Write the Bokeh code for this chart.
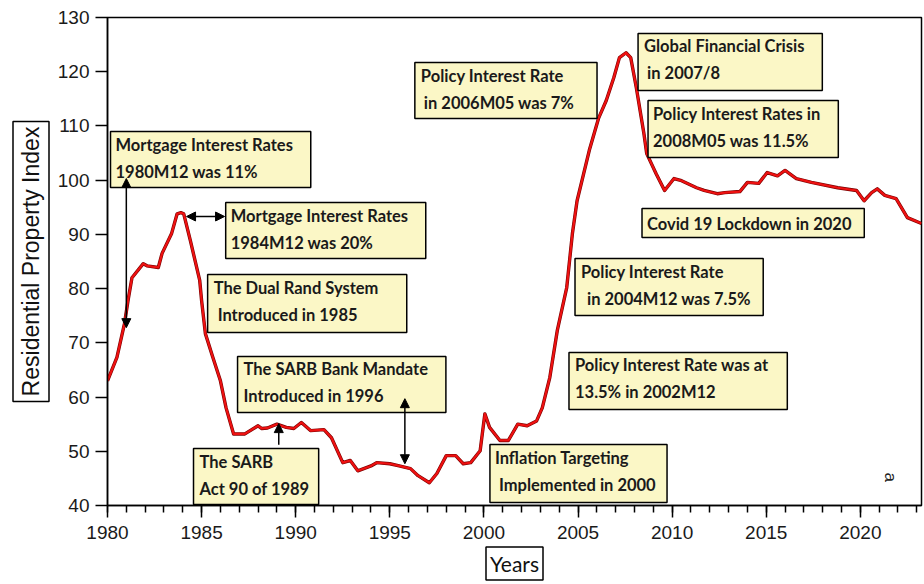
from bokeh.plotting import figure
from bokeh.models import (ColumnDataSource, Range1d, FixedTicker, Label, Arrow,
                          NormalHead, Title)
from bokeh.core.properties import value
from bokeh.embed import file_html
from bokeh.resources import INLINE
import math

# ---------------- data ----------------
years = [1980.0, 1980.5, 1980.9, 1981.1, 1981.3, 1981.9, 1982.1, 1982.7, 1982.9,
         1983.4, 1983.7, 1983.9, 1984.05, 1984.4, 1984.9, 1985.0, 1985.2, 1985.6,
         1986.0, 1986.3, 1986.7, 1987.3, 1988.0, 1988.2, 1988.5, 1989.0, 1989.5,
         1989.9, 1990.3, 1990.8, 1991.5, 1991.9, 1992.5, 1992.9, 1993.3, 1994.0,
         1994.3, 1995.0, 1995.5, 1996.1, 1996.5, 1997.1, 1997.5, 1998.0, 1998.5,
         1998.9, 1999.3, 1999.8, 2000.05, 2000.3, 2000.85, 2001.3, 2001.8, 2002.3,
         2002.8, 2003.1, 2003.5, 2003.9, 2004.4, 2004.7, 2004.95, 2005.3, 2005.6,
         2006.1, 2006.5, 2006.9, 2007.2, 2007.55, 2007.8, 2008.1, 2008.5, 2008.65,
         2009.15, 2009.6, 2010.1, 2010.5, 2011.3, 2011.7, 2012.4, 2012.8, 2013.6,
         2014.0, 2014.6, 2015.05, 2015.6, 2016.0, 2016.6, 2017.4, 2018.8, 2019.8,
         2020.2, 2020.6, 2020.9, 2021.3, 2021.9, 2022.5, 2023.25]
rpi = [63.0, 67.3, 73.5, 78.0, 82.0, 84.6, 84.2, 83.9, 86.5,
       90.1, 93.8, 94.0, 93.8, 88.9, 81.5, 77.8, 71.7, 67.3,
       63.0, 58.0, 53.2, 53.2, 54.7, 54.2, 54.3, 55.0, 54.4,
       54.2, 55.3, 53.8, 54.0, 52.5, 47.9, 48.3, 46.4, 47.3,
       47.9, 47.7, 47.3, 46.8, 45.5, 44.2, 45.9, 49.2, 49.2,
       47.7, 47.9, 50.1, 56.9, 54.4, 52.0, 52.0, 55.0, 54.7,
       55.6, 58.0, 63.6, 72.3, 80.2, 90.1, 96.2, 101.2, 105.5,
       111.5, 114.7, 118.9, 122.6, 123.5, 122.6, 117.0, 108.6, 104.9,
       101.2, 98.1, 100.3, 99.9, 98.6, 98.1, 97.5, 97.7, 97.9,
       99.6, 99.4, 101.4, 100.8, 101.8, 100.3, 99.6, 98.6, 98.1,
       96.2, 97.7, 98.4, 97.2, 96.6, 93.1, 92.0]

x_major_ticks = [1980, 1985, 1990, 1995, 2000, 2005, 2010, 2015, 2020]
y_ticks = [40, 50, 60, 70, 80, 90, 100, 110, 120, 130]

# annotation texts
note_line1 = ["Mortgage Interest Rates", "Mortgage Interest Rates", "The Dual Rand System",
              "The SARB Bank Mandate", "The SARB", "Inflation Targeting",
              "Policy Interest Rate was at", "Policy Interest Rate", "Policy Interest Rate",
              "Global Financial Crisis", "Policy Interest Rates in", "Covid 19 Lockdown in 2020"]
note_line2 = ["1980M12 was 11%", "1984M12 was 20%", "Introduced in 1985",
              "Introduced in 1996", "Act 90 of 1989", "Implemented in 2000",
              "13.5% in 2002M12", "in 2004M12 was 7.5%", "in 2006M05 was 7%",
              "in 2007/8", "2008M05 was 11.5%", ""]

# ---------------- layout of annotation boxes (data coords) ----------------
box_left = [1980.16, 1986.28, 1985.32, 1986.91, 1984.57, 2000.32, 2004.52, 2004.84,
            1996.33, 2008.19, 2008.72, 2008.40]
box_right = [1990.80, 1996.91, 1995.90, 1997.98, 1991.22, 2009.73, 2016.12, 2014.84,
             2006.01, 2017.98, 2018.83, 2020.21]
box_top = [108.97, 95.88, 82.60, 67.48, 50.51, 51.25, 68.22, 85.55, 121.70, 127.05,
           114.69, 94.77]
box_bottom = [98.65, 85.55, 71.91, 57.15, 40.18, 40.55, 57.70, 75.04, 111.37, 116.54,
              104.18, 89.43]
pad1 = [5, 5, 6, 6, 6, 5, 6, 6, 6, 6, 5, 5]
pad2 = [5, 5, 10, 6, 6, 9, 6, 12, 9, 9, 5, 5]
off1 = [13, 13, 13, 13, 13, 13, 13, 13, 13, 13, 13, 15]
off2 = [40] * 12

W, H = 924, 584
p = figure(width=W, height=H, output_backend="svg", toolbar_location=None,
           x_range=Range1d(1980, 2023.25), y_range=Range1d(40, 130),
           min_border_left=107, min_border_right=3, min_border_top=17, min_border_bottom=79)
p.background_fill_color = "white"
p.border_fill_color = "white"
p.outline_line_color = "black"
p.outline_line_width = 1.5
p.xgrid.visible = False
p.ygrid.visible = False

# axes
for ax in (p.xaxis[0], p.yaxis[0]):
    ax.axis_line_color = "black"
    ax.axis_line_width = 1.5
    ax.major_tick_line_color = "black"
    ax.major_tick_line_width = 1.5
    ax.major_tick_in = 0
    ax.major_tick_out = 12
    ax.major_label_text_font = "Liberation Sans"
    ax.major_label_text_font_size = "19px"
    ax.major_label_text_color = "#1a1a1a"
p.xaxis.ticker = FixedTicker(ticks=x_major_ticks, minor_ticks=list(range(1980, 2024)))
p.xaxis.minor_tick_line_color = "black"
p.xaxis.minor_tick_line_width = 1.5
p.xaxis.minor_tick_in = 0
p.xaxis.minor_tick_out = 7
p.xaxis.major_label_standoff = 8
p.yaxis.ticker = FixedTicker(ticks=y_ticks)
p.yaxis.minor_tick_line_color = None
p.yaxis.major_label_standoff = 6

# axis titles in boxes
p.add_layout(Title(text="Residential Property Index", align="center",
                   text_font="Liberation Sans", text_font_size="23px",
                   text_font_style="normal", text_color="#111111",
                   border_line_color="black", border_line_width=1.5,
                   background_fill_color="white", padding=5, standoff=11), "left")
p.add_layout(Title(text="Years", align="center", offset=-5,
                   text_font="Lato", text_font_size="21px",
                   text_font_style="normal", text_color="#111111",
                   border_line_color="black", border_line_width=1.5,
                   background_fill_color="white", padding=4, standoff=7), "below")

# data line
src = ColumnDataSource(dict(x=years, y=rpi))
p.line("x", "y", source=src, line_color="#7a0000", line_width=3.4, line_join="round")
p.line("x", "y", source=src, line_color="#ee1111", line_width=2.2, line_join="round")

# arrows
head = dict(size=9, fill_color="black", line_color="black")
p.add_layout(Arrow(start=NormalHead(**head), end=NormalHead(**head),
                   x_start=1981.0, y_start=72.8, x_end=1981.0, y_end=100.3,
                   line_width=1.5, line_color="black"))
p.add_layout(Arrow(start=NormalHead(**head), end=NormalHead(**head),
                   x_start=1984.2, y_start=93.3, x_end=1986.22, y_end=93.3,
                   line_width=1.5, line_color="black"))
p.add_layout(Arrow(end=NormalHead(**head),
                   x_start=1989.1, y_start=51.2, x_end=1989.1, y_end=55.1,
                   line_width=1.5, line_color="black"))
p.add_layout(Arrow(start=NormalHead(**head), end=NormalHead(**head),
                   x_start=1995.8, y_start=47.7, x_end=1995.8, y_end=59.7,
                   line_width=1.5, line_color="black"))

# annotation boxes
bsrc = ColumnDataSource(dict(left=box_left, right=box_right, top=box_top, bottom=box_bottom,
                             t1=note_line1, t2=note_line2, p1=pad1, p2=pad2,
                             o1=off1, o2=off2))
p.quad(left="left", right="right", top="top", bottom="bottom", source=bsrc,
       fill_color="#fbf7c6", line_color="black", line_width=1.5)
common = dict(text_font=value("Lato"), text_font_style="bold", text_font_size="16.5px",
              text_color="#1a1a1a", text_baseline="middle", text_align="left")
p.text(x="left", y="top", text="t1", x_offset="p1", y_offset="o1", source=bsrc, **common)
p.text(x="left", y="top", text="t2", x_offset="p2", y_offset="o2", source=bsrc, **common)

# small "a" mark
p.add_layout(Label(x=2021.6, y=45.2, text="a", angle=-math.pi / 2,
                   text_font="Liberation Sans", text_font_size="17px",
                   text_align="center", text_baseline="middle", text_color="#222222"))

open("out.html", "w").write(file_html(p, INLINE))
